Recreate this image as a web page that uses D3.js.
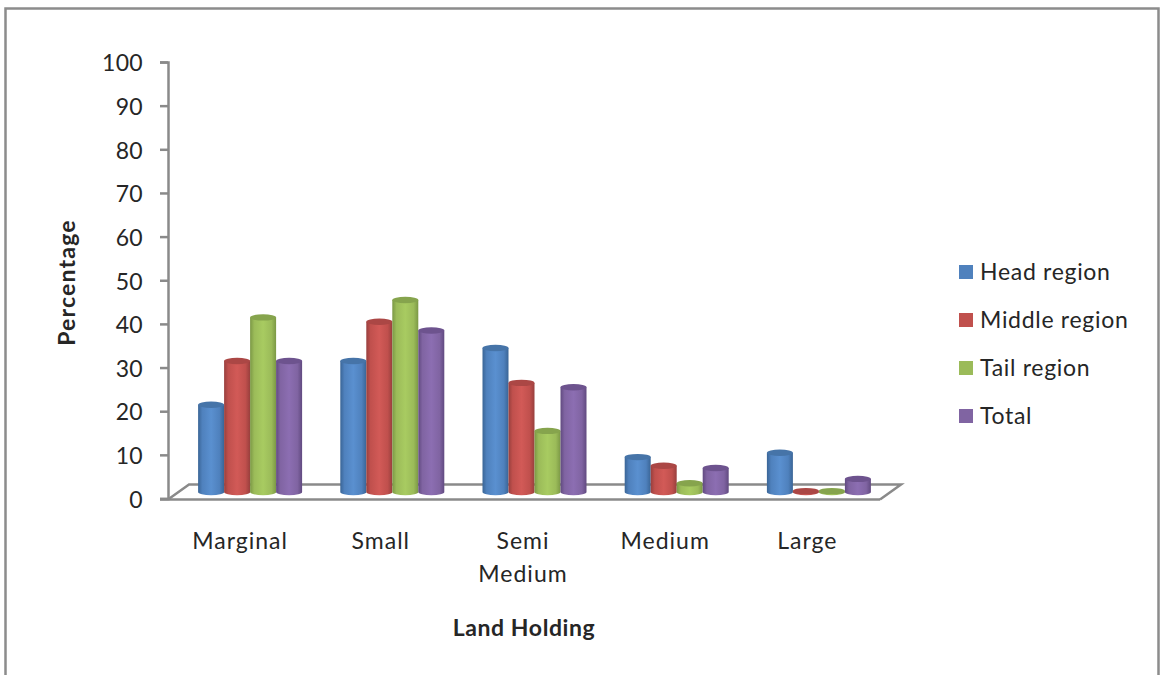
<!DOCTYPE html>
<html>
<head>
<meta charset="utf-8">
<script src="https://cdn.jsdelivr.net/npm/d3@7/dist/d3.min.js"></script>
<style>
html,body{margin:0;padding:0;background:#fff}
svg{display:block}
text{font-family:Lato,"Open Sans",sans-serif;fill:#262626}
</style>
</head>
<body>
<svg id="chart" width="1161" height="675"></svg>
<script>
const categories = ["Marginal", "Small", "Semi Medium", "Medium", "Large"];
const seriesNames = ["Head region", "Middle region", "Tail region", "Total"];
const headRegion = [20, 30, 33, 8, 9];
const middleRegion = [30, 39, 25, 6, 0.2];
const tailRegion = [40, 44, 14, 2, 0.2];
const totalRegion = [30, 37, 24, 5.5, 3];
const yTicks = [0, 10, 20, 30, 40, 50, 60, 70, 80, 90, 100];
const seriesValues = [headRegion, middleRegion, tailRegion, totalRegion];

const palette = [
  {base: "#4f81bd", light: "#5a90d0", dark: "#3a6596", top: "#4674a8"},
  {base: "#c0504d", light: "#d25a57", dark: "#983f3d", top: "#ab4745"},
  {base: "#9bbb59", light: "#a8cb61", dark: "#7b9845", top: "#86a44d"},
  {base: "#8064a2", light: "#8c6eb2", dark: "#614a80", top: "#6d538e"}
];

const svg = d3.select("#chart");

// Chart frame: open along the bottom edge
svg.append("path")
  .attr("d", "M5.5,675V8.5H1158.5V675")
  .attr("fill", "none").attr("stroke", "#8c8c8c").attr("stroke-width", 2.5);

const y = d3.scaleLinear().domain([0, 100]).range([498.5, 62]);
const x = d3.scaleBand().domain(categories).range([169, 880]);
const inner = d3.scaleBand().domain(d3.range(4)).range([0, 104]);

// Depth of the floor and where the cylinders stand on it
const floorDepthX = 21, floorDepthY = 15;
const barShiftX = 10, barShiftY = 6.5;
const axisColor = "#8a8a8a";

const defs = svg.append("defs");
palette.forEach((c, i) => {
  const g = defs.append("linearGradient").attr("id", "cyl" + i);
  g.append("stop").attr("offset", "0").attr("stop-color", c.dark);
  g.append("stop").attr("offset", "0.16").attr("stop-color", c.base);
  g.append("stop").attr("offset", "0.5").attr("stop-color", c.light);
  g.append("stop").attr("offset", "0.82").attr("stop-color", c.base);
  g.append("stop").attr("offset", "1").attr("stop-color", c.dark);
});

// Floor of the 3D plot
const x0 = x.range()[0] - 1, x1 = x.range()[1], y0 = y(0) + 1;
svg.append("path")
  .attr("d", `M${x0},${y0}L${x0 + floorDepthX},${y0 - floorDepthY}H${x1 + floorDepthX}L${x1},${y0}`)
  .attr("fill", "none").attr("stroke", axisColor).attr("stroke-width", 2.5);

// Value axis
const yAxis = svg.append("g")
  .attr("transform", `translate(${x0},0)`)
  .call(d3.axisLeft(y).tickValues(yTicks).tickSize(8).tickPadding(17).tickSizeOuter(8));
yAxis.selectAll("path,line").attr("stroke", axisColor).attr("stroke-width", 2.5);
yAxis.selectAll("text")
  .attr("font-size", 23).attr("dy", "0.38em")
  .style("font-family", "Lato,sans-serif").style("letter-spacing", "0.3px");

// Front edge of the floor reaches back past the value axis
svg.append("line").attr("x1", x0 - 8).attr("x2", x1).attr("y1", y0).attr("y2", y0)
  .attr("stroke", axisColor).attr("stroke-width", 2.5);

// Cylinders
const rx = inner.bandwidth() / 2, ry = 3.2;
const bars = svg.append("g");
categories.forEach((cat, ci) => {
  const cx0 = x(cat) + x.bandwidth() / 2 + barShiftX - 52;
  seriesValues.forEach((vals, si) => {
    const v = vals[ci];
    const cx = cx0 + inner(si) + rx;
    const bottom = y(0) - barShiftY;
    const top = y(v) - barShiftY;
    const g = bars.append("g");
    g.append("path")
      .attr("d", `M${cx - rx},${top}V${bottom}A${rx},${ry} 0 0 0 ${cx + rx},${bottom}V${top}Z`)
      .attr("fill", `url(#cyl${si})`);
    g.append("ellipse")
      .attr("cx", cx).attr("cy", top).attr("rx", rx).attr("ry", ry)
      .attr("fill", palette[si].top);
  });
});

// Category labels; long names wrap onto two lines
const labelLines = {"Semi Medium": ["Semi", "Medium"]};
const catLabels = svg.append("g").attr("font-size", 23).attr("text-anchor", "middle")
  .style("letter-spacing", "1px");
categories.forEach((cat, ci) => {
  const lines = labelLines[cat] || [cat];
  const t = catLabels.append("text").attr("y", 549);
  lines.forEach((l, i) => t.append("tspan")
    .attr("x", x(cat) + x.bandwidth() / 2 - (ci ? 1.5 : 0))
    .attr("dy", i ? 33 : 0).text(l));
});

// Axis titles
svg.append("text").attr("x", 524).attr("y", 636).attr("text-anchor", "middle")
  .attr("font-size", 23).attr("font-weight", 700).style("letter-spacing", "0.6px").text("Land Holding");
svg.append("text").attr("transform", "translate(75,282.5) rotate(-90)").attr("text-anchor", "middle")
  .attr("font-size", 23).attr("font-weight", 700).style("letter-spacing", "1.2px").text("Percentage");

// Legend
const legendY = d3.scalePoint().domain(seriesNames).range([272, 416]);
const legend = svg.append("g");
seriesNames.forEach((name, i) => {
  legend.append("rect").attr("x", 959).attr("y", legendY(name) - 7)
    .attr("width", 14).attr("height", 14).attr("fill", palette[i].base);
  legend.append("text").attr("x", 980).attr("y", legendY(name) + 8)
    .attr("font-size", 23).style("letter-spacing", "0.7px").text(name);
});
</script>
</body>
</html>
